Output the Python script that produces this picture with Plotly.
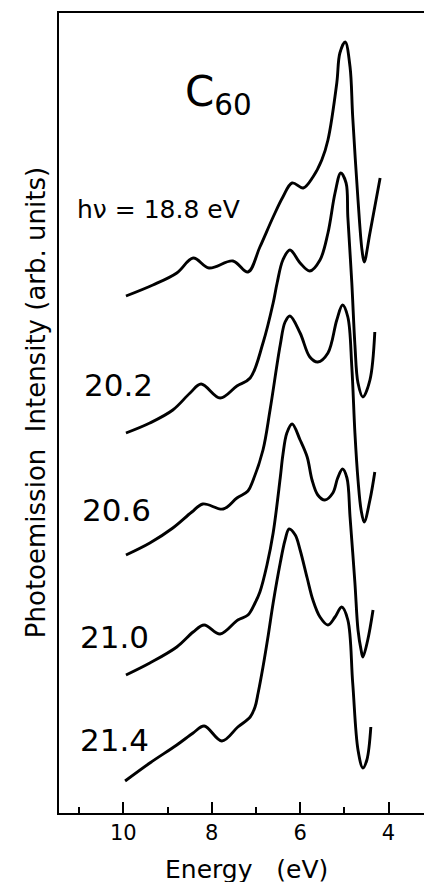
import plotly.graph_objects as go

# Energy (eV) and photoemission intensity (arb. units)
e_188 = [9.94, 9.33, 8.79, 8.42, 8.06, 7.52, 7.18, 6.91, 6.61, 6.39, 6.18, 5.93, 5.71, 5.51, 5.37, 5.17, 5.10, 4.98, 4.87, 4.81, 4.69, 4.60, 4.55, 4.42, 4.19]
i_188 = [517, 528, 540, 555, 545, 552, 541, 566, 596, 616, 630, 625, 636, 653, 673, 730, 760, 771, 746, 696, 613, 563, 551, 580, 635]

e_202 = [9.94, 9.40, 8.88, 8.49, 8.24, 7.81, 7.43, 7.13, 6.84, 6.61, 6.52, 6.39, 6.23, 6.00, 5.78, 5.55, 5.37, 5.21, 5.08, 4.96, 4.92, 4.83, 4.76, 4.69, 4.58, 4.42, 4.31]
i_202 = [380, 390, 403, 420, 429, 415, 427, 435, 470, 510, 530, 553, 563, 550, 542, 553, 580, 620, 640, 630, 596, 530, 468, 430, 416, 433, 481]

e_206 = [9.94, 9.40, 8.88, 8.45, 8.20, 7.74, 7.43, 7.18, 7.07, 6.84, 6.68, 6.45, 6.34, 6.23, 6.00, 5.78, 5.60, 5.37, 5.17, 5.04, 4.92, 4.83, 4.76, 4.69, 4.62, 4.55, 4.42, 4.31]
i_206 = [258, 270, 285, 301, 309, 304, 315, 322, 332, 363, 403, 468, 491, 497, 480, 456, 451, 460, 493, 508, 496, 446, 380, 333, 303, 291, 313, 341]

e_210 = [9.94, 9.40, 8.79, 8.42, 8.17, 7.81, 7.41, 7.18, 7.02, 6.91, 6.75, 6.61, 6.45, 6.39, 6.30, 6.18, 6.00, 5.84, 5.73, 5.60, 5.44, 5.26, 5.15, 5.04, 4.94, 4.87, 4.76, 4.69, 4.62, 4.58, 4.47, 4.35]
i_210 = [138, 150, 166, 181, 188, 179, 193, 198, 210, 221, 248, 280, 335, 358, 380, 389, 373, 356, 333, 318, 313, 320, 335, 344, 335, 296, 230, 183, 163, 156, 173, 203]

e_214 = [9.96, 9.40, 8.79, 8.42, 8.17, 7.77, 7.41, 7.13, 7.02, 6.95, 6.84, 6.72, 6.61, 6.45, 6.34, 6.25, 6.11, 6.00, 5.84, 5.71, 5.55, 5.37, 5.21, 5.06, 4.92, 4.81, 4.69, 4.58, 4.49, 4.40]
i_214 = [32, 50, 68, 80, 87, 72, 86, 96, 106, 120, 146, 178, 210, 250, 273, 284, 278, 263, 235, 213, 196, 188, 196, 206, 193, 130, 63, 45, 53, 86]

series = [(e_188, i_188), (e_202, i_202), (e_206, i_206), (e_210, i_210), (e_214, i_214)]
photon_labels = ["h\u03bd = 18.8 eV", "20.2", "20.6", "21.0", "21.4"]
label_pos = [(11.10, 604), (10.93, 428), (10.98, 303), (11.02, 176), (11.02, 73)]

x_ticks = [10, 8, 6, 4]
x_ticklabels = ["10", "8", "6", "4"]

FONT = "DejaVu Sans"

fig = go.Figure()
for (e, i) in series:
    fig.add_trace(go.Scatter(x=e, y=i, mode="lines",
                             line=dict(color="black", width=2.9, shape="spline", smoothing=1.0),
                             showlegend=False, hoverinfo="skip"))

annotations = []
for txt, (ex, iy) in zip(photon_labels, label_pos):
    size = 25 if txt.startswith("h") else 31
    annotations.append(dict(x=ex, y=iy, xref="x", yref="y", text=txt, showarrow=False,
                            xanchor="left", yanchor="middle",
                            font=dict(family=FONT, size=size, color="black")))

annotations.append(dict(x=8.64, y=719, xref="x", yref="y",
                        text="C<sub>60</sub>",
                        showarrow=False, xanchor="left", yanchor="middle",
                        font=dict(family=FONT, size=42, color="black")))

# plot area spans x = 59..440 px (the page window crops at 424, so no right frame shows)
annotations.append(dict(x=(246 - 59) / (440 - 59), y=-0.071, xref="paper", yref="paper",
                        text="Energy\u00a0\u00a0\u00a0(eV)", showarrow=False,
                        xanchor="center", yanchor="middle",
                        font=dict(family=FONT, size=25, color="black")))
annotations.append(dict(x=-0.06, y=0.5125, xref="paper", yref="paper",
                        text="Photoemission\u00a0\u00a0Intensity\u00a0(arb.\u00a0units)", showarrow=False,
                        textangle=-90, xanchor="center", yanchor="middle",
                        font=dict(family=FONT, size=26, color="black")))

fig.update_layout(
    width=440, height=882,
    margin=dict(l=59, r=0, t=13, b=69),
    paper_bgcolor="white", plot_bgcolor="white",
    annotations=annotations,
    xaxis=dict(range=[11.455, 2.835], tickvals=x_ticks, ticktext=x_ticklabels,
               ticks="inside", ticklen=11, tickwidth=2, tickcolor="black",
               showline=True, linecolor="black", linewidth=2, mirror=True,
               showgrid=False, zeroline=False,
               tickfont=dict(family=FONT, size=21, color="black"),
               minor=dict(tickvals=[11, 9, 7, 5], ticks="inside", ticklen=6, tickwidth=2, tickcolor="black")),
    yaxis=dict(range=[0, 800], showticklabels=False, ticks="",
               showline=True, linecolor="black", linewidth=2,
               showgrid=False, zeroline=False),
)

fig.write_html("out.html", config={"displayModeBar": False, "staticPlot": True},
               post_script=("document.body.style.margin='0px';"
                            "document.body.style.overflow='hidden';"
                            "document.documentElement.style.overflow='hidden';"))
